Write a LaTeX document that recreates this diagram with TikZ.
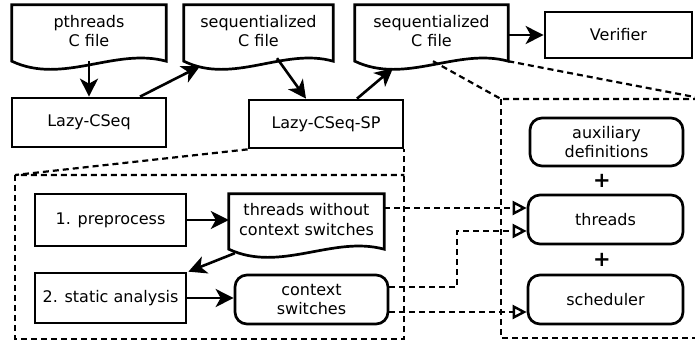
\documentclass[tikz,border=0pt]{standalone}
\usepackage{fontspec}
\setmainfont{DejaVu Sans}
\usetikzlibrary{arrows.meta,calc}

\begin{document}
\begin{tikzpicture}[x=1pt,y=-1pt,
  every node/.style={font=\fontsize{16}{19.5}\selectfont, align=center, inner sep=0pt},
  box/.style={draw, line width=2.7pt},
  rbox/.style={draw, line width=2.7pt, rounded corners=12pt},
  doc/.style={},
  arr/.style={line width=2.6pt, -{Stealth[length=18pt,width=18pt,inset=5pt]}},
  dline/.style={line width=2.2pt, dash pattern=on 6pt off 4pt},
  darr/.style={line width=2.2pt, dash pattern=on 6pt off 4pt,
               -{Triangle[open,length=14pt,width=14pt,line width=2.4pt]}},
  plus/.style={font=\fontsize{21}{21}\selectfont\bfseries}
]
\useasboundingbox (0,0) rectangle (695,341);
\clip (0,0) rectangle (695,341);

% top row: files and tools
\node[doc, minimum width=154pt, minimum height=52pt] (pth)  at (89,31)    {pthreads\\C file};
\node[doc, minimum width=149pt, minimum height=52pt] (seqA) at (258.5,31) {sequentialized\\C file};
\node[doc, minimum width=153pt, minimum height=52pt] (seqB) at (431.5,31) {sequentialized\\C file};
\node[box, minimum width=147pt, minimum height=46pt] (ver)  at (618.5,35) {Verifier};
\node[box, minimum width=154pt, minimum height=49pt] (lcs)  at (89,122.5) {Lazy-CSeq};
\node[box, minimum width=154pt, minimum height=48pt] (lsp)  at (326,124)  {Lazy-CSeq-SP};

% inside Lazy-CSeq-SP
\node[box, minimum width=151pt, minimum height=52pt] (pre) at (110.5,220)   {1. preprocess};
\node[doc, minimum width=155pt, minimum height=51pt] (twc) at (306.5,219.5) {threads without\\context switches};
\node[box, minimum width=151pt, minimum height=50pt] (sta) at (110.5,298)   {2. static analysis};
\node[rbox, minimum width=153pt, minimum height=49pt] (ctx) at (311.5,299.5) {context\\switches};

% parts of the sequentialized file
\node[rbox, minimum width=153pt, minimum height=48pt] (aux) at (606.5,142)   {auxiliary\\definitions};
\node[plus] (p1) at (602,181) {+};
\node[rbox, minimum width=155pt, minimum height=49pt] (thr) at (605.5,219.5) {threads};
\node[plus] (p2) at (602,260) {+};
\node[rbox, minimum width=155pt, minimum height=49pt] (sch) at (605.5,299.5) {scheduler};

% document outlines with a wavy lower edge
\foreach \n in {pth,seqA,seqB,twc}{
  \path ([yshift=-4pt]\n.south east) coordinate (se)
        ([yshift=-4pt]\n.south west) coordinate (sw);
  \draw[line width=2.7pt, line join=miter]
    (\n.north west) -- (\n.north east) -- (se)
    .. controls ($(se)!0.33!(sw)+(0,-14)$) and ($(se)!0.67!(sw)+(0,24)$) .. (sw)
    -- cycle;
}

% tool chain
\draw[arr] ([yshift=-4pt]pth.south) -- (lcs.north);
\draw[arr] ([xshift=51pt]lcs.north) -- ([xshift=-58.5pt,yshift=-9pt]seqA.south);
\draw[arr] ([xshift=18.5pt,yshift=-1pt]seqA.south) -- ([xshift=-20pt]lsp.north);
\draw[arr] ([xshift=31pt]lsp.north) -- ([xshift=-38.5pt,yshift=-11pt]seqB.south);
\draw[arr] (seqB.east |- ver.west) -- (ver.west);

% steps of Lazy-CSeq-SP
\draw[arr] (pre.east) -- (twc.west |- pre.east);
\draw[arr] ([xshift=6pt,yshift=-8pt]twc.south west) -- ([xshift=1pt]sta.north east);
\draw[arr] (sta.east) -- (ctx.west |- sta.east);

% zoom frame around Lazy-CSeq-SP
\coordinate (lTL) at (15,175);
\coordinate (lBL) at (15,339);
\coordinate (lTR) at (lsp.south east |- lTL);
\coordinate (lBR) at (lsp.south east |- lBL);
\draw[dline] (lsp.south west) -- (lTL) -- (lTR);
\draw[dline] (lTL) -- (lBL) -- (lBR) -- (lsp.south east);

% zoom frame around the sequentialized file
\coordinate (rTL) at (501,99);
\coordinate (rTR) at (705,99);
\coordinate (rBL) at (501,338);
\coordinate (rBR) at (705,338);
\draw[dline] ([xshift=1.5pt,yshift=-4pt]seqB.south) -- (rTL) -- (rTR);
\draw[dline] ([yshift=-4pt]seqB.south east) -- (rTR);
\draw[dline] (rTL) -- (rBL) -- (rBR);

% what each step contributes
\coordinate (t1) at ([yshift=11.5pt]thr.west);
\coordinate (t2) at ([yshift=-11.5pt]thr.west);
\draw[darr] (twc.east |- t1) -- (t1);
\draw[darr] ([yshift=12.5pt]ctx.east) -- ++(68,0) |- (t2);
\draw[darr] ([yshift=-12.5pt]ctx.east) -- ([yshift=-12.5pt]sch.west);
\end{tikzpicture}
\end{document}
